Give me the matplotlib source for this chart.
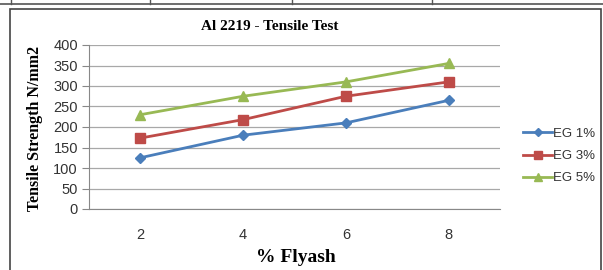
import matplotlib.pyplot as plt
from matplotlib.lines import Line2D
from matplotlib.patches import Rectangle

flyash = ["2", "4", "6", "8"]
eg1 = [125, 180, 210, 265]
eg3 = [173, 218, 275, 310]
eg5 = [230, 275, 310, 355]
series_names = ["EG 1%", "EG 3%", "EG 5%"]
yticks = [0, 50, 100, 150, 200, 250, 300, 350, 400]

W, H = 603, 270
fig = plt.figure(figsize=(W / 100, H / 100), dpi=100, facecolor="white")

# page/table lines around the chart
fig.add_artist(Line2D([0, 1], [1 - 4 / H, 1 - 4 / H], color="#555555", lw=1.2))
for xv in [11, 150, 292, 432]:
    fig.add_artist(Line2D([xv / W, xv / W], [1, 1 - 4 / H], color="#555555", lw=1.0))
fig.add_artist(Rectangle((10 / W, -0.05), 591 / W, 1.05 - 9 / H, fill=False,
                         edgecolor="#444444", lw=1.2))

ax = fig.add_axes([89 / W, 1 - 209 / H, 411 / W, 164 / H])
x = list(range(len(flyash)))
ax.plot(x, eg1, color="#4a7ebb", lw=2, marker="D", ms=5, label=series_names[0])
ax.plot(x, eg3, color="#be4b48", lw=2, marker="s", ms=7, label=series_names[1])
ax.plot(x, eg5, color="#98b954", lw=2, marker="^", ms=7, label=series_names[2])

ax.set_xlim(-0.5, 3.5)
ax.set_ylim(0, 400)
ax.set_yticks(yticks)
ax.set_xticks(x)
ax.set_xticklabels(flyash)
ax.grid(axis="y", color="#a8a8a8", lw=0.9)
ax.set_axisbelow(True)
for s in ["top", "right"]:
    ax.spines[s].set_visible(False)
ax.spines["left"].set_color("#888888")
ax.spines["bottom"].set_color("#888888")
ax.tick_params(axis="y", length=5, color="#888888", labelsize=10.5, labelcolor="#333333", pad=3)
ax.tick_params(axis="x", length=0, labelsize=10.5, labelcolor="#333333", pad=14)
for lab in ax.get_xticklabels() + ax.get_yticklabels():
    lab.set_family("Liberation Sans")

fig.text(270 / W, 1 - 27 / H, "Al 2219 - Tensile Test", family="Liberation Serif",
         weight="bold", fontsize=11, ha="center", va="center")
fig.text(35 / W, 1 - 128 / H, "Tensile Strength N/mm2", family="Liberation Serif",
         weight="bold", fontsize=11.5, rotation=90, ha="center", va="center")
fig.text(296 / W, 1 - 258 / H, "% Flyash", family="Liberation Serif",
         weight="bold", fontsize=14, ha="center", va="center")

leg = fig.legend(loc="center left", bbox_to_anchor=(523 / W, 1 - 156 / H), frameon=False,
                 prop={"family": "Liberation Sans", "size": 9.5}, handlelength=2.2,
                 handletextpad=0.1, labelspacing=0.75, markerscale=0.85,
                 borderpad=0, borderaxespad=0)
for t in leg.get_texts():
    t.set_color("#333333")

fig.savefig("out.png", dpi=100, facecolor="white")
